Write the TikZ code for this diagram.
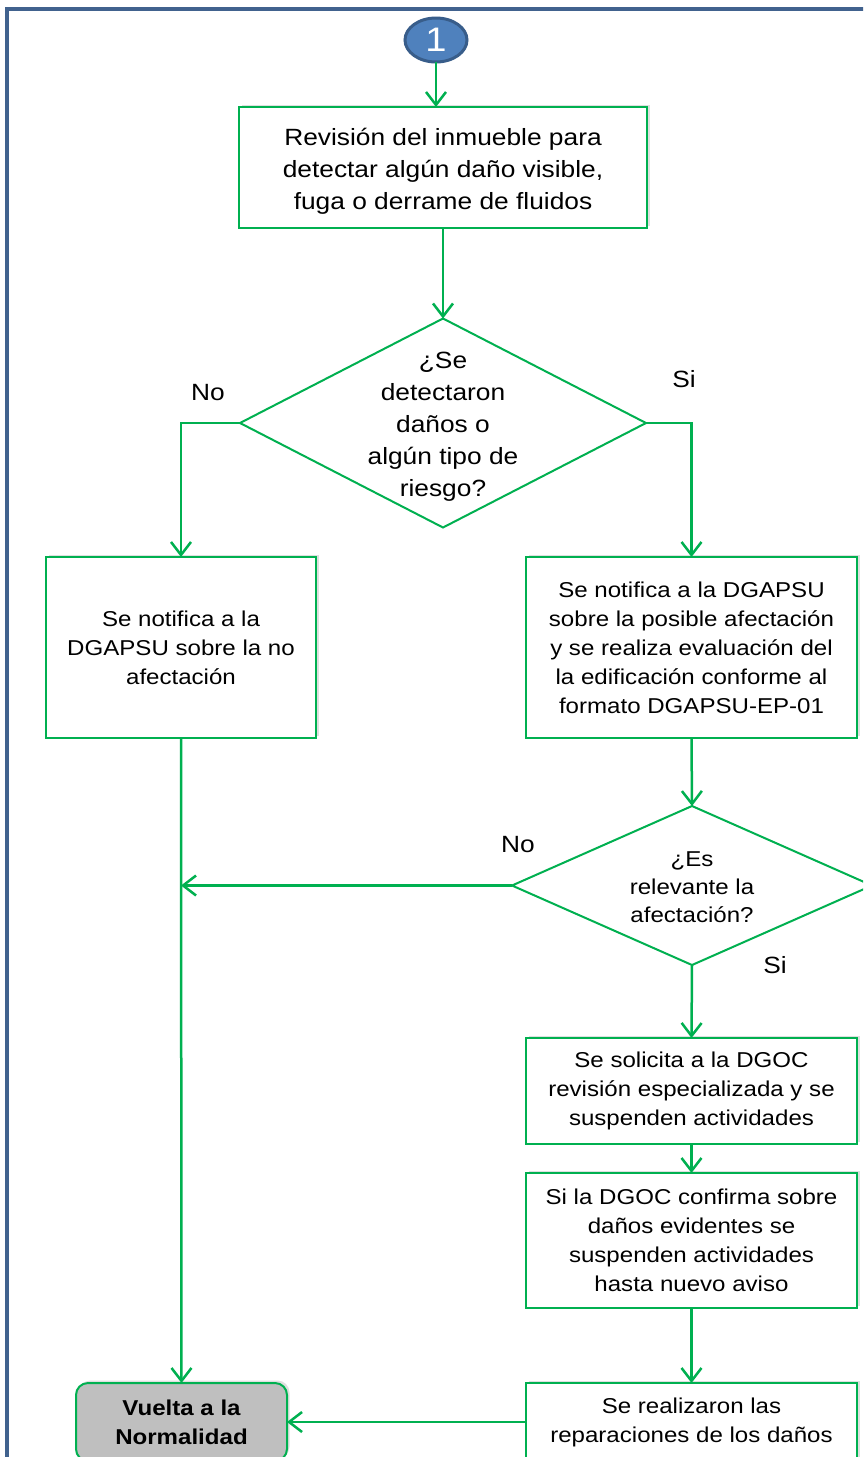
\documentclass[tikz,border=0pt]{standalone}
\usepackage{fontspec}
\setmainfont{Liberation Sans}[FakeStretch=1.12]
\usetikzlibrary{arrows.meta,shapes.geometric,shadows}
\definecolor{fgreen}{HTML}{00B050}
\definecolor{frameblue}{HTML}{41628E}
\definecolor{cfill}{HTML}{4F81BD}
\definecolor{cdraw}{HTML}{385D8A}
\definecolor{vgray}{HTML}{BFBFBF}
\tikzset{
  every node/.style={inner sep=0pt, outer sep=0pt},
  box/.style={draw=fgreen, line width=2pt, fill=white, align=center,
    drop shadow={shadow xshift=2.5pt, shadow yshift=2.5pt, opacity=0.25},
    font=\fontsize{21.5}{29}\selectfont},
  dia/.style={draw=fgreen, line width=2pt, shape=diamond, fill=white},
  dtext/.style={align=center},
  lbl/.style={font=\fontsize{23.5}{28}\selectfont},
  conn/.style={draw=fgreen, line width=2.5pt, -{Straight Barb[length=13pt,width=20pt,line width=2.5pt]}},
}
\begin{document}
\begin{tikzpicture}[x=1pt,y=-1pt]
\useasboundingbox (0,0) rectangle (863,1457);
\clip (0,0) rectangle (863,1457);
\fill[white] (0,0) rectangle (863,1457);
% frame
\draw[frameblue, line width=4pt] (7,1500) -- (7,9) -- (900,9);
% start connector
\node[shape=ellipse, fill=cfill, draw=cdraw, line width=3pt, minimum width=62pt, minimum height=44pt,
  text=white, font=\fontsize{34}{34}\selectfont] (c1) at (436,40) {1};
% boxes
\node[box, minimum width=408pt, minimum height=121pt] (b1) at (443,167.5) {};
\node[dtext, font=\fontsize{23.5}{32}\selectfont] (b1t) at (443,171)
  {Revisión del inmueble para\\detectar algún daño visible,\\fuga o derrame de fluidos};
\node[dia, minimum width=406pt, minimum height=209pt] (d1) at (443,423) {};
\node[dtext, font=\fontsize{23.5}{32}\selectfont] (d1t) at (443,427) {¿Se\\detectaron\\daños o\\algún tipo de\\riesgo?};
\node[box, minimum width=270pt, minimum height=181pt] (bl) at (181,647.5)
  {Se notifica a la\\DGAPSU sobre la no\\afectación};
\node[box, minimum width=331pt, minimum height=181pt] (br) at (691.5,647.5)
  {Se notifica a la DGAPSU\\sobre la posible afectación\\y se realiza evaluación del\\la edificación conforme al\\formato DGAPSU-EP-01};
\node[dia, minimum width=360pt, minimum height=159pt] (d2) at (692,885.5) {};
\node[dtext, font=\fontsize{21.5}{28}\selectfont] (d2t) at (692,887) {¿Es\\relevante la\\afectación?};
\node[box, minimum width=331pt, minimum height=106pt] (b3) at (691.5,1091)
  {Se solicita a la DGOC\\revisión especializada y se\\suspenden actividades};
\node[box, minimum width=331pt, minimum height=135pt] (b4) at (691.5,1240.5)
  {Si la DGOC confirma sobre\\daños evidentes se\\suspenden actividades\\hasta nuevo aviso};
\node[box, minimum width=331pt, minimum height=78pt] (b5) at (691.5,1422)
  {Se realizaron las\\reparaciones de los daños};
\node[box, rounded corners=12pt, fill=vgray, minimum width=211pt, minimum height=78pt,
  font=\fontsize{21.5}{29}\selectfont\bfseries] (vn) at (181.5,1422)
  {Vuelta a la\\Normalidad};
% labels
\node[lbl] (l1) at (208,393) {No};
\node[lbl] (l2) at (684,379) {Si};
\node[lbl] (l3) at (518,845) {No};
\node[lbl] (l4) at (775,965) {Si};
% connectors
\draw[conn] (c1.south) -- (c1.south |- b1.north);
\draw[conn] (b1.south) -- (d1.north);
\draw[conn] (d1.west) -| (bl.north);
\draw[conn] (d1.east) -| (br.north);
\draw[conn] (bl.south) -- (vn.north);
\draw[conn] (br.south) -- (d2.north);
\draw[conn] (d2.west) -- (d2.west -| bl.south);
\draw[conn] (d2.south) -- (b3.north);
\draw[conn] (b3.south) -- (b4.north);
\draw[conn] (b4.south) -- (b5.north);
\draw[conn] (b5.west) -- (vn.east);
\end{tikzpicture}
\end{document}
